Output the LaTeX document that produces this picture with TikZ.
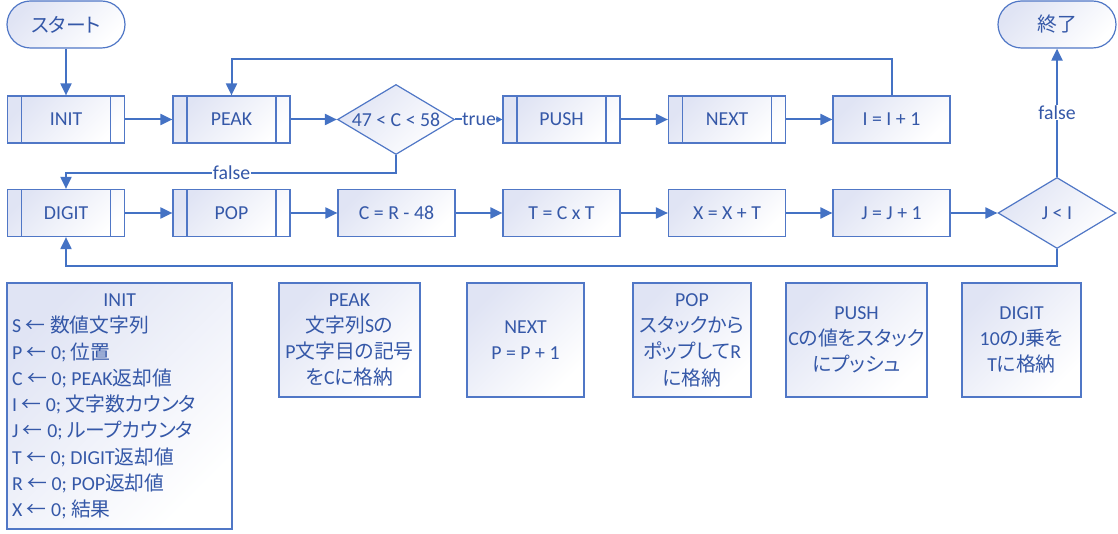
\documentclass[tikz,border=0pt]{standalone}
\usepackage{fontspec}
\setmainfont{Carlito}
\newfontfamily\jpfont{Noto Sans CJK JP}[RawFeature=+palt]
\newcommand{\J}[1]{{\jpfont #1}}
\usetikzlibrary{shapes.geometric,arrows.meta}
\definecolor{lineblue}{HTML}{4472C4}
\definecolor{boxedge}{HTML}{5077C6}
\definecolor{txtblue}{HTML}{3558A8}
\definecolor{boxfill}{HTML}{E0E4F4}
\begin{document}
\begin{tikzpicture}[x=1pt,y=-1pt,
  base/.style={font=\fontsize{19.8}{26.3}\selectfont, text=txtblue, inner sep=0pt},
  shadedbox/.style={base, draw=boxedge, line width=1.2pt, left color=boxfill, right color=white, shading angle=45},
  proc/.style={shadedbox, rectangle, minimum width=117pt, minimum height=47pt},
  subr/.style={proc, path picture={\draw[boxedge, line width=1.2pt]
      ([xshift=14pt]path picture bounding box.north west) -- ([xshift=14pt]path picture bounding box.south west)
      ([xshift=-14pt]path picture bounding box.north east) -- ([xshift=-14pt]path picture bounding box.south east);}},
  term/.style={shadedbox, rectangle, rounded corners=23.5pt, minimum width=118pt, minimum height=47pt},
  dec/.style={shadedbox, diamond, minimum width=117pt, minimum height=70pt},
  desc/.style={shadedbox, rectangle, align=center, minimum height=114pt},
  arr/.style={lineblue, line width=2pt, -{Triangle[length=12pt,width=11pt]}},
  smallarr/.style={lineblue, line width=2pt, -{Triangle[length=6pt,width=6pt]}},
  lbl/.style={base, fill=white, inner sep=0.5pt}
]
\useasboundingbox (0,0) rectangle (1118,534);

% row 1
\node[term] (start) at (66,24.5) {\J{スタート}};
\node[subr] (init) at (66,119.5) {INIT};
\node[subr] (peak) at (231.5,119.5) {PEAK};
\node[dec] (d1) at (396,119.5) {\makebox[0pt]{47 < C < 58}};
\node[subr] (push) at (561.5,119.5) {PUSH};
\node[subr] (next) at (727,119.5) {NEXT};
\node[proc] (inc) at (891.5,119.5) {I = I + 1};
\node[term] (end) at (1057,24.5) {\J{終了}};

% row 2
\node[subr] (digit) at (66,213) {DIGIT};
\node[subr] (pop) at (231.5,213) {POP};
\node[proc] (crm) at (396.5,213) {C = R - 48};
\node[proc] (tct) at (561.5,213) {T = C x T};
\node[proc] (xxt) at (727,213) {X = X + T};
\node[proc] (jj) at (891.5,213) {J = J + 1};
\node[dec, minimum width=118pt, minimum height=71pt] (d2) at (1057,213) {\makebox[0pt]{J < I}};

% connectors
\draw[arr] (start.south) -- (init.north);
\draw[arr] (init.east) -- (peak.west);
\draw[arr] (peak.east) -- (d1.west);
\draw[smallarr] (d1.east) -- (push.west);
\node[lbl] (tlbl) at (479,119.5) {true};
\draw[arr] (push.east) -- (next.west);
\draw[arr] (next.east) -- (inc.west);
\draw[arr] (inc.north) -- ++(0,-36) -| (peak.north);
\draw[arr] (d1.south) -- ++(0,18) coordinate (f1) -| (digit.north);
\node[lbl] (flbl1) at (peak.north |- f1) {false};
\draw[arr] (digit.east) -- (pop.west);
\draw[arr] (pop.east) -- (crm.west);
\draw[arr] (crm.east) -- (tct.west);
\draw[arr] (tct.east) -- (xxt.west);
\draw[arr] (xxt.east) -- (jj.west);
\draw[arr] (jj.east) -- (d2.west);
\draw[arr] (d2.south) -- ++(0,17) -| (digit.south);
\draw[arr] (d2.north) -- (end.south) node[lbl, pos=0.5] (flbl2) {false};

% description boxes
\node[shadedbox, rectangle, minimum width=225pt, minimum height=246pt] (initbox) at (119.5,406) {};
\node[base, anchor=north west, align=left] (inittext) at (12,293.5) {%
\makebox[215pt]{INIT}\\
S \J{←} \J{数値文字列}\\
P \J{←} 0; \J{位置}\\
C \J{←} 0; PEAK\J{返却値}\\
I \J{←} 0; \J{文字数カウンタ}\\
J \J{←} 0; \J{ループカウンタ}\\
T \J{←} 0; DIGIT\J{返却値}\\
R \J{←} 0; POP\J{返却値}\\
X \J{←} 0; \J{結果}};

\node[desc, minimum width=141pt] (peakd) at (349.5,340) {PEAK\\\J{文字列}S\J{の}\\P\J{文字目の記号}\\\J{を}C\J{に格納}};
\node[desc, minimum width=117pt] (nextd) at (525.5,340) {NEXT\\P = P + 1};
\node[desc, minimum width=118pt] (popd) at (692,340) {POP\\\J{スタックから}\\\J{ポップして}R\\\J{に格納}};
\node[desc, minimum width=141pt] (pushd) at (856.5,340) {PUSH\\C\J{の値をスタック}\\\J{にプッシュ}};
\node[desc, minimum width=119pt] (digitd) at (1021.5,340) {DIGIT\\10\J{の}J\J{乗を}\\T\J{に格納}};
\end{tikzpicture}
\end{document}
